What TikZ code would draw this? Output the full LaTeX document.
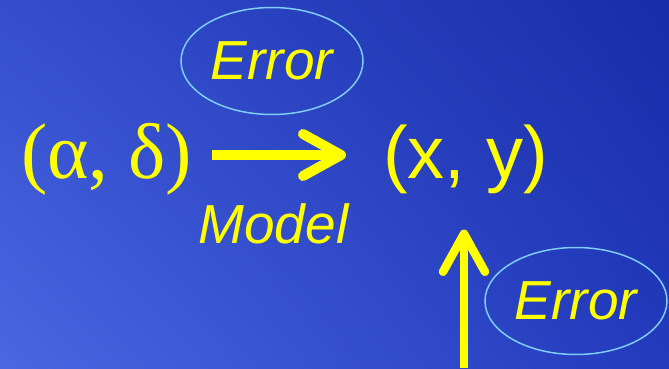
\documentclass[tikz,border=0pt]{standalone}
\usepackage{fontspec}
\setmainfont{Liberation Serif}
\setsansfont{Liberation Sans}
\usetikzlibrary{arrows.meta,positioning,shapes.geometric,shadings}
\definecolor{bgul}{RGB}{52,78,205}
\definecolor{bgur}{RGB}{24,44,168}
\definecolor{bgll}{RGB}{74,104,226}
\definecolor{bglr}{RGB}{34,58,188}
\definecolor{ringcyan}{RGB}{125,205,245}
\definecolor{hiyellow}{RGB}{255,255,0}

\begin{document}
\begin{tikzpicture}[x=1pt,y=1pt,
  big/.style={inner sep=0pt,anchor=base,text=hiyellow,font=\fontsize{79}{84}\selectfont},
  lbl/.style={inner sep=0pt,text=hiyellow,font=\sffamily\itshape\fontsize{55}{60}\selectfont},
  err/.style={lbl,ellipse,draw=ringcyan,line width=1.5pt,minimum width=182pt,minimum height=107pt},
  arr/.style={hiyellow,line width=10pt,-{Straight Barb[length=38pt,width=42pt,round]}}]
  \shade[upper left=bgul,upper right=bgur,lower left=bgll,lower right=bglr]
    (0,0) rectangle (669,368);
  \useasboundingbox (0,0) rectangle (669,368);
  \node[big] (ad) at (106.5,190) {(α, δ)};
  \node[big,font=\sffamily\fontsize{74}{80}\selectfont] (xy) at (465.5,190) {(x, y)};
  \node[lbl,anchor=base] (model) at (273.5,125) {Model};
  \node[err] (e1) at (272,307) {Error};
  \node[err] (e2) at (576,67) {Error};
  \coordinate (mtip) at (346,213);
  \coordinate (ebot) at (464,0);
  \draw[arr,shorten <=20pt] (ad.east |- mtip) -- (mtip);
  \draw[arr,line width=8.5pt,shorten >=36pt] (ebot) -- (ebot |- xy.south);
\end{tikzpicture}
\end{document}
